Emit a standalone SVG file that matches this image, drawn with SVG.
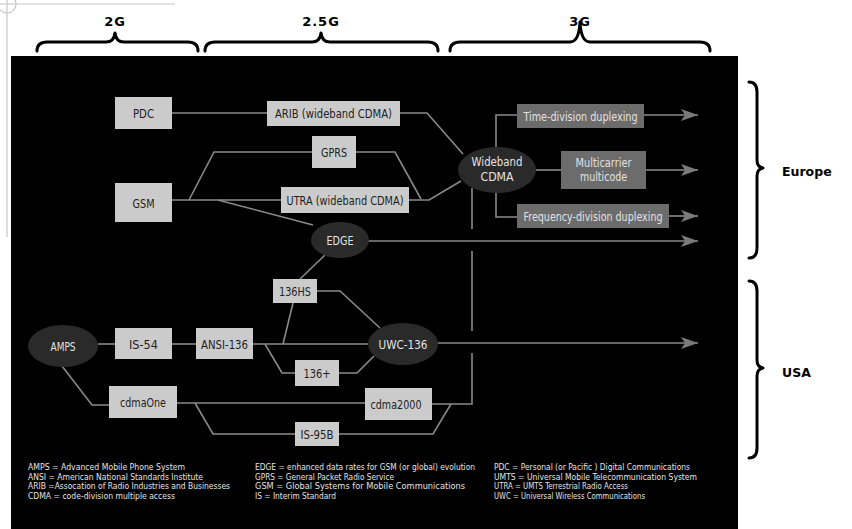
<svg xmlns="http://www.w3.org/2000/svg" width="852" height="529" viewBox="0 0 852 529">
  <style>
    .lbl { font-family: "Liberation Sans Narrow", "DejaVu Sans Condensed", "DejaVu Sans", sans-serif; font-stretch: condensed; font-size: 12.5px; text-anchor: middle; }
    .dark-txt { fill: #1e1e1e; }
    .light-txt { fill: #e2e2e2; }
    .box { fill: #cbcbcb; }
    .gbox { fill: #6c6c6c; }
    .oval { fill: #2a2a2a; }
    .wire { fill: none; stroke: #8a8a8a; stroke-width: 1.6; }
    .brace { fill: none; stroke: #000; stroke-width: 3; stroke-linecap: round; stroke-linejoin: round; }
    .head { font-family: "DejaVu Sans", sans-serif; font-weight: bold; font-size: 13px; letter-spacing: 1px; text-anchor: middle; fill: #000; }
    .region { font-family: "DejaVu Sans", sans-serif; font-weight: bold; font-size: 12.5px; fill: #000; }
    .legend { font-family: "Liberation Sans Narrow", "DejaVu Sans Condensed", "DejaVu Sans", sans-serif; font-size: 8.5px; fill: #e4e4e4; }
  </style>
  <defs>
    <marker id="arrow" markerUnits="userSpaceOnUse" markerWidth="18" markerHeight="14" viewBox="0 -7 18 14" refX="17" refY="0" orient="auto">
      <path d="M0,-6 L17,0 L0,6 L4,0 Z" fill="#7a7a7a"/>
    </marker>
  </defs>

  <rect width="852" height="529" fill="#fff"/>

  <!-- registration mark -->
  <g stroke="#c8c8c8" stroke-width="1.2" fill="none">
    <line x1="7" y1="0" x2="7" y2="237"/>
    <line x1="0" y1="4" x2="175" y2="4"/>
    <circle cx="7" cy="4" r="9"/>
  </g>

  <!-- generation headers -->
  <text class="head" x="115" y="26">2G</text>
  <text class="head" x="321" y="26">2.5G</text>
  <text class="head" x="580" y="26">3G</text>
  <path class="brace" d="M37,51 Q37,42 47,42 L106,42 Q114,42 115,33 Q116,42 124,42 L188,42 Q198,42 198,51"/>
  <path class="brace" d="M205,51 Q205,42 215,42 L312,42 Q320,42 321,33 Q322,42 330,42 L428,42 Q438,42 438,51"/>
  <path class="brace" d="M450,51 Q450,42 460,42 L570,42 Q579,42 580,22 Q581,42 590,42 L700,42 Q710,42 710,51"/>

  <!-- region braces -->
  <path class="brace" d="M749,82 Q757,82 757,92 L757,160 Q757,167 763,168 Q757,169 757,176 L757,248 Q757,258 749,258"/>
  <path class="brace" d="M749,281 Q757,281 757,291 L757,360 Q757,367 763,368 Q757,369 757,376 L757,448 Q757,458 749,458"/>
  <text class="region" x="782" y="176">Europe</text>
  <text class="region" x="782" y="377">USA</text>

  <!-- panel -->
  <rect x="11" y="56" width="727" height="473" fill="#000"/>

  <!-- connectors -->
  <g id="connectors" class="wire">
    <path d="M172,113 L267,113"/>
    <path d="M400,113 L427,113 L463,154"/>
    <path d="M172,200 L281,200"/>
    <path d="M189,200 L214,152 L312,152"/>
    <path d="M356,152 L395,152 L421,199"/>
    <path d="M409,200 L429,200 L461,181"/>
    <path d="M218,200 L313,225"/>
    <path d="M368,241 L698,241" marker-end="url(#arrow)"/>
    <path d="M496,148 L496,115 L517,115"/>
    <path d="M644,115 L698,115" marker-end="url(#arrow)"/>
    <path d="M536,170 L561,170"/>
    <path d="M646,170 L698,170" marker-end="url(#arrow)"/>
    <path d="M496,192 L496,217 L517,217"/>
    <path d="M669,216 L698,216" marker-end="url(#arrow)"/>
    <path d="M325,255 L300,279"/>
    <path d="M98,344 L115,344"/>
    <path d="M172,344 L196,344"/>
    <path d="M253,344 L368,344"/>
    <path d="M293,303 L283,344"/>
    <path d="M317,291 L340,291 L380,328"/>
    <path d="M265,344 L282,373 L295,373"/>
    <path d="M339,373 L357,373 L374,356"/>
    <path d="M438,343 L698,343" marker-end="url(#arrow)"/>
    <path d="M62,366 L92,405 L109,405"/>
    <path d="M177,403 L365,403"/>
    <path d="M195,403 L213,434 L295,434"/>
    <path d="M339,434 L433,434 L451,404"/>
    <path d="M432,404 L472,404 L472,353"/>
    <path d="M472,331 L472,251"/>
    <path d="M472,229 L472,188"/>
  </g>

  <!-- nodes -->
  <g id="pdc"><rect class="box" x="115" y="97" width="57" height="32"/><text class="lbl dark-txt" x="143.5" y="117.5" textLength="21" lengthAdjust="spacingAndGlyphs">PDC</text></g>
  <g id="arib"><rect class="box" x="267" y="101" width="133" height="25"/><text class="lbl dark-txt" x="333.5" y="118" textLength="117" lengthAdjust="spacingAndGlyphs">ARIB (wideband CDMA)</text></g>
  <g id="gprs"><rect class="box" x="312" y="136" width="44" height="32"/><text class="lbl dark-txt" x="334" y="156.5" textLength="26" lengthAdjust="spacingAndGlyphs">GPRS</text></g>
  <g id="gsm"><rect class="box" x="115" y="183" width="57" height="39"/><text class="lbl dark-txt" x="143.5" y="207.5" textLength="22" lengthAdjust="spacingAndGlyphs">GSM</text></g>
  <g id="utra"><rect class="box" x="281" y="187" width="128" height="26"/><text class="lbl dark-txt" x="345" y="204.5" textLength="117" lengthAdjust="spacingAndGlyphs">UTRA (wideband CDMA)</text></g>
  <g id="edge"><ellipse class="oval" cx="340" cy="240" rx="29" ry="18"/><text class="lbl light-txt" x="340" y="244.5" textLength="27" lengthAdjust="spacingAndGlyphs">EDGE</text></g>
  <g id="wcdma"><ellipse class="oval" cx="497" cy="170" rx="39" ry="23"/><text class="lbl light-txt" x="497" y="166" textLength="51" lengthAdjust="spacingAndGlyphs">Wideband</text><text class="lbl light-txt" x="497" y="181" textLength="33" lengthAdjust="spacingAndGlyphs">CDMA</text></g>
  <g id="tdd"><rect class="gbox" x="517" y="104" width="127" height="24"/><text class="lbl light-txt" x="580.5" y="120.5" textLength="114" lengthAdjust="spacingAndGlyphs">Time-division duplexing</text></g>
  <g id="mcmc"><rect class="gbox" x="561" y="151" width="85" height="38"/><text class="lbl light-txt" x="603.5" y="167" textLength="56" lengthAdjust="spacingAndGlyphs">Multicarrier</text><text class="lbl light-txt" x="603.5" y="181" textLength="47" lengthAdjust="spacingAndGlyphs">multicode</text></g>
  <g id="fdd"><rect class="gbox" x="517" y="204" width="152" height="24"/><text class="lbl light-txt" x="593" y="220.5" textLength="139" lengthAdjust="spacingAndGlyphs">Frequency-division duplexing</text></g>
  <g id="is136hs"><rect class="box" x="273" y="279" width="44" height="24"/><text class="lbl dark-txt" x="295" y="295.5" textLength="32" lengthAdjust="spacingAndGlyphs">136HS</text></g>
  <g id="amps"><ellipse class="oval" cx="63" cy="346" rx="35" ry="21"/><text class="lbl light-txt" x="63" y="350.5" textLength="25" lengthAdjust="spacingAndGlyphs">AMPS</text></g>
  <g id="is54"><rect class="box" x="115" y="328" width="57" height="31"/><text class="lbl dark-txt" x="143.5" y="348.5" textLength="29" lengthAdjust="spacingAndGlyphs">IS-54</text></g>
  <g id="ansi136"><rect class="box" x="196" y="328" width="57" height="31"/><text class="lbl dark-txt" x="224.5" y="348.5" textLength="47" lengthAdjust="spacingAndGlyphs">ANSI-136</text></g>
  <g id="uwc136"><ellipse class="oval" cx="403" cy="344" rx="35" ry="21"/><text class="lbl light-txt" x="403" y="348.5" textLength="49" lengthAdjust="spacingAndGlyphs">UWC-136</text></g>
  <g id="is136plus"><rect class="box" x="295" y="360" width="44" height="26"/><text class="lbl dark-txt" x="317" y="377.5" textLength="27" lengthAdjust="spacingAndGlyphs">136+</text></g>
  <g id="cdmaone"><rect class="box" x="109" y="386" width="68" height="32"/><text class="lbl dark-txt" x="143" y="406.5" textLength="46" lengthAdjust="spacingAndGlyphs">cdmaOne</text></g>
  <g id="cdma2000"><rect class="box" x="365" y="388" width="67" height="32"/><text class="lbl dark-txt" x="396" y="408.5" textLength="51" lengthAdjust="spacingAndGlyphs">cdma2000</text></g>
  <g id="is95b"><rect class="box" x="295" y="422" width="44" height="24"/><text class="lbl dark-txt" x="317" y="438.5" textLength="33" lengthAdjust="spacingAndGlyphs">IS-95B</text></g>

  <!-- abbreviations -->
  <g id="legend" class="legend" lengthAdjust="spacingAndGlyphs">
    <text x="28" y="470" textLength="157" lengthAdjust="spacingAndGlyphs">AMPS = Advanced Mobile Phone System</text>
    <text x="28" y="479.5" textLength="175" lengthAdjust="spacingAndGlyphs">ANSI = American National Standards Institute</text>
    <text x="28" y="489" textLength="202" lengthAdjust="spacingAndGlyphs">ARIB =Assocation of Radio Industries and Businesses</text>
    <text x="28" y="498.5" textLength="147" lengthAdjust="spacingAndGlyphs">CDMA = code-division multiple access</text>
    <text x="255" y="470" textLength="220" lengthAdjust="spacingAndGlyphs">EDGE = enhanced data rates for GSM (or global) evolution</text>
    <text x="255" y="479.5" textLength="139" lengthAdjust="spacingAndGlyphs">GPRS = General Packet Radio Service</text>
    <text x="255" y="489" textLength="210" lengthAdjust="spacingAndGlyphs">GSM = Global Systems for Mobile Communications</text>
    <text x="255" y="498.5" textLength="81" lengthAdjust="spacingAndGlyphs">IS = Interim Standard</text>
    <text x="494" y="470" textLength="196" lengthAdjust="spacingAndGlyphs">PDC = Personal (or Pacific ) Digital Communications</text>
    <text x="494" y="479.5" textLength="203" lengthAdjust="spacingAndGlyphs">UMTS = Universal Mobile Telecommunication System</text>
    <text x="494" y="489" textLength="134" lengthAdjust="spacingAndGlyphs">UTRA = UMTS Terrestrial Radio Access</text>
    <text x="494" y="498.5" textLength="151" lengthAdjust="spacingAndGlyphs">UWC = Universal Wireless Communications</text>
  </g>
</svg>
